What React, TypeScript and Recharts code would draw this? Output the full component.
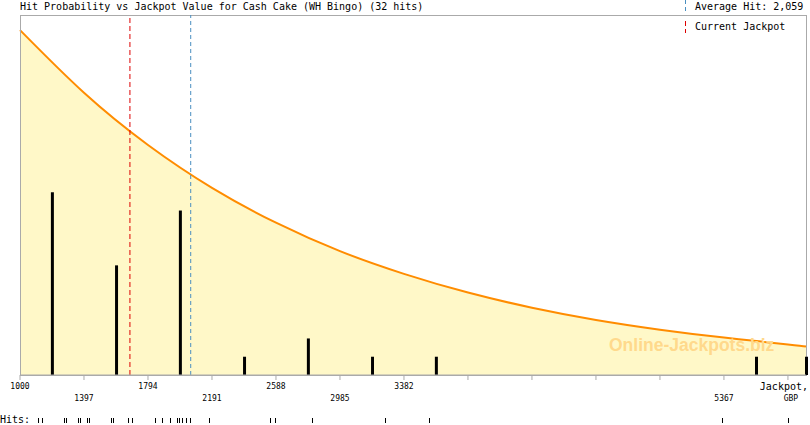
import {
  Area,
  Bar,
  ComposedChart,
  ReferenceArea,
  ReferenceLine,
  Scatter,
  ScatterChart,
  XAxis,
  YAxis,
} from "recharts";

const jackpotTicks = [1000, 1397, 1794, 2191, 2588, 2985, 3382, 3779, 4176, 4573, 4970, 5367, 5764];
// only these ticks carry a label in the original
const labelledTicks = [1000, 1397, 1794, 2191, 2588, 2985, 3382, 5367];
const domainMax = 5876;

// hit probability curve (relative units)
const curveJackpots = [1000, 1397, 1794, 2191, 2588, 2985, 3382, 3779, 4176, 4573, 4970, 5367, 5764, 5876];
const curveProb = [95.8, 78.4, 63.9, 52.0, 42.3, 34.4, 28.1, 22.9, 18.7, 15.3, 12.6, 10.4, 8.5, 7.9];

// histogram of hits per 397 bin
const binCenters = [1198, 1596, 1992, 2390, 2786, 3184, 3580, 5566, 5876];
const binHits = [10, 6, 9, 1, 2, 1, 1, 1, 1];

// individual hits for the strip at the bottom
const hitValues = [
  1114, 1141, 1279, 1287, 1366, 1376, 1420, 1430, 1569, 1577, 1672, 1697, 1842, 1883, 1887, 1932, 1974,
  1991, 2009, 2030, 2059, 2174, 2555, 2584, 2813, 3268, 3541, 5361, 5766,
];

const averageHit = 2059;
const currentJackpot = 1682;

const FONT = "DejaVu Sans Mono";

const table = [
  ...curveJackpots.map((jackpot, i) => ({ jackpot, prob: curveProb[i] as number | undefined, hits: undefined as number | undefined })),
  ...binCenters.map((jackpot, i) => ({ jackpot, prob: undefined as number | undefined, hits: binHits[i] })),
].sort((a, b) => a.jackpot - b.jackpot);

const rugData = hitValues.map((v) => ({ jackpot: v, y: 0.5 }));

function JackpotTick(props: any) {
  const { x, y, payload, index } = props;
  if (payload.value === 5764) {
    return (
      <g fontFamily={FONT} fill="#000">
        <text x={808} y={y + 8} textAnchor="end" fontSize={10}>
          Jackpot,
        </text>
        <text x={x + 3} y={y + 18.5} textAnchor="middle" fontSize={8}>
          GBP
        </text>
      </g>
    );
  }
  if (!labelledTicks.includes(payload.value)) return <g />;
  return (
    <text
      x={x}
      y={index % 2 === 0 ? y + 6.5 : y + 18.5}
      textAnchor="middle"
      fontSize={8}
      fontFamily={FONT}
      fill="#000"
    >
      {payload.value}
    </text>
  );
}

function RugTick(props: any) {
  const { cx, cy } = props;
  return <line x1={cx} x2={cx} y1={cy - 2} y2={cy + 3} stroke="#000" strokeWidth={1} shapeRendering="crispEdges" />;
}

export default function App() {
  return (
    <div style={{ position: "absolute", left: 0, top: 0, width: 810, height: 425, background: "#fff", fontFamily: FONT }}>
      <div style={{ position: "absolute", left: 20, top: 0, fontSize: 10, lineHeight: "13px", whiteSpace: "nowrap" }}>
        Hit Probability vs Jackpot Value for Cash Cake (WH Bingo) (32 hits)
      </div>
      <svg style={{ position: "absolute", left: 0, top: 0 }} width={810} height={40}>
        <line x1={685.5} x2={685.5} y1={0} y2={12} stroke="#4a8fc0" strokeDasharray="4 3" />
        <line x1={685.5} x2={685.5} y1={21} y2={33} stroke="#dd0000" strokeDasharray="5 3" />
      </svg>
      <div style={{ position: "absolute", left: 695, top: 0, fontSize: 10, lineHeight: "13px", whiteSpace: "nowrap" }}>
        Average Hit: 2,059
      </div>

      <div style={{ position: "absolute", left: 0, top: 0 }}>
        <ComposedChart width={810} height={405} data={table} margin={{ top: 15, right: 4, bottom: 0, left: 20 }}>
          <XAxis
            dataKey="jackpot"
            type="number"
            domain={[1000, domainMax]}
            ticks={jackpotTicks}
            interval={0}
            height={30}
            tickSize={5}
            stroke="#aaaaaa"
            tick={<JackpotTick />}
          />
          <YAxis yAxisId="prob" hide domain={[0, 100]} />
          <YAxis yAxisId="hits" hide domain={[0, 19.7]} />
          <Area
            yAxisId="prob"
            type="natural"
            dataKey="prob"
            stroke="#ff8c00"
            strokeWidth={2}
            fill="#fff8c8"
            fillOpacity={1}
            connectNulls
            dot={false}
            activeDot={false}
            isAnimationActive={false}
          />
          <Bar yAxisId="hits" dataKey="hits" fill="#000" barSize={3} isAnimationActive={false} />
          <ReferenceLine yAxisId="hits" x={currentJackpot} stroke="#dd0000" strokeDasharray="5 3" />
          <ReferenceLine yAxisId="hits" x={averageHit} stroke="#4a8fc0" strokeDasharray="4 3" />
          <ReferenceArea
            yAxisId="hits"
            x1={1000}
            x2={domainMax}
            y1={0}
            y2={19.7}
            fill="none"
            fillOpacity={0}
            stroke="#aaaaaa"
            strokeOpacity={1}
            shapeRendering="crispEdges"
          />
        </ComposedChart>
      </div>

      <div style={{ position: "absolute", left: 695, top: 20, fontSize: 10, lineHeight: "13px", whiteSpace: "nowrap" }}>
        Current Jackpot
      </div>
      <div
        style={{
          position: "absolute",
          left: 609,
          top: 335,
          fontFamily: "Liberation Sans",
          fontWeight: "bold",
          fontSize: 17.5,
          color: "#ffd98c",
          whiteSpace: "nowrap",
        }}
      >
        Online-Jackpots.biz
      </div>

      <div style={{ position: "absolute", left: 0, top: 413, fontSize: 10, lineHeight: "13px" }}>Hits:</div>
      <div style={{ position: "absolute", left: 0, top: 410 }}>
        <ScatterChart width={810} height={20} margin={{ top: 0, right: 4, bottom: 0, left: 20 }}>
          <XAxis dataKey="jackpot" type="number" domain={[1000, domainMax]} hide />
          <YAxis dataKey="y" type="number" domain={[0, 1]} hide />
          <Scatter data={rugData} shape={<RugTick />} isAnimationActive={false} />
        </ScatterChart>
      </div>
    </div>
  );
}
